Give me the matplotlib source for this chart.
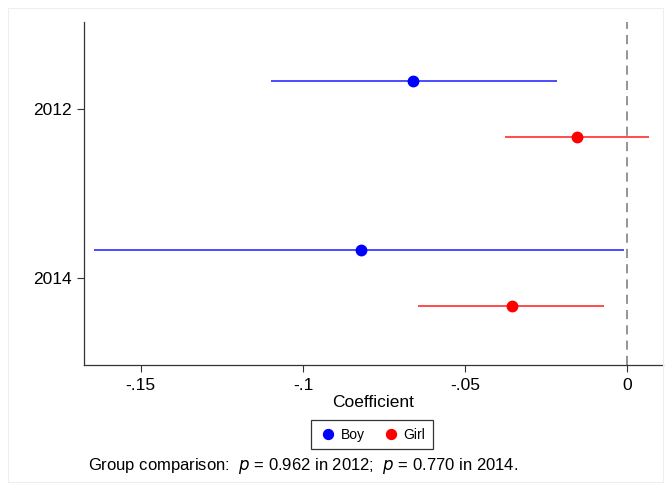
import matplotlib
matplotlib.use("Agg")
import matplotlib.pyplot as plt
from matplotlib.patches import Rectangle

plt.rcParams['font.family'] = ['Liberation Sans', 'DejaVu Sans']

years = ["2012", "2014"]
boy_coef = [-0.066, -0.0822]
boy_lo = [-0.110, -0.1645]
boy_hi = [-0.0218, -0.0009]
girl_coef = [-0.0156, -0.0356]
girl_lo = [-0.0377, -0.0644]
girl_hi = [0.0067, -0.0071]
xticks = [-0.15, -0.10, -0.05, 0.0]
xticklabels = ["-.15", "-.1", "-.05", "0"]

fig = plt.figure(figsize=(6.71, 4.90), dpi=100)
ax = fig.add_axes([84/671, 1 - 365/490, (663-84)/671, (365-22)/490])

offset = 0.165
ypos = list(range(len(years)))
boy_y = [y - offset for y in ypos]
girl_y = [y + offset for y in ypos]

ax.hlines(boy_y, boy_lo, boy_hi, color="#1a1aff", lw=1.1)
ax.hlines(girl_y, girl_lo, girl_hi, color="#ff1a1a", lw=1.1)
ax.plot(boy_coef, boy_y, "o", color="#0000ff", ms=7.5, label="Boy")
ax.plot(girl_coef, girl_y, "o", color="#ff0000", ms=7.5, label="Girl")
ax.axvline(0, color="#777777", lw=1.1, ls=(0, (6, 4)))

ax.set_xlim(-0.1675, 0.011)
ax.set_ylim(1.51, -0.51)
ax.set_yticks(ypos)
ax.set_yticklabels(years)
ax.set_xticks(xticks)
ax.set_xticklabels(xticklabels)
ax.tick_params(labelsize=12.5, length=5, width=0.8, color="#333333", pad=4)
for s in ["top", "right"]:
    ax.spines[s].set_visible(False)
for s in ["left", "bottom"]:
    ax.spines[s].set_color("#333333")
    ax.spines[s].set_linewidth(0.9)
ax.set_xlabel("Coefficient", fontsize=12.5, labelpad=2)

leg = fig.legend(loc="center", bbox_to_anchor=(372/671, 1 - 434.5/490), ncol=2,
                 fontsize=10, frameon=True, fancybox=False, edgecolor="black",
                 handletextpad=0.2, columnspacing=1.2, handlelength=1.4,
                 markerscale=0.95, borderpad=0.55)
leg.get_frame().set_linewidth(0.9)

fig.text(88/671, 1 - 466/490,
         r"Group comparison:  $\it{p}$ = 0.962 in 2012;  $\it{p}$ = 0.770 in 2014.",
         fontsize=12, va="center", ha="left")

fig.patches.append(Rectangle((8/671, 8/490), 1 - 16/671, 1 - 16/490,
                             transform=fig.transFigure, fill=False,
                             edgecolor="#eeeeee", lw=0.8))

fig.savefig("out.png", dpi=100)
